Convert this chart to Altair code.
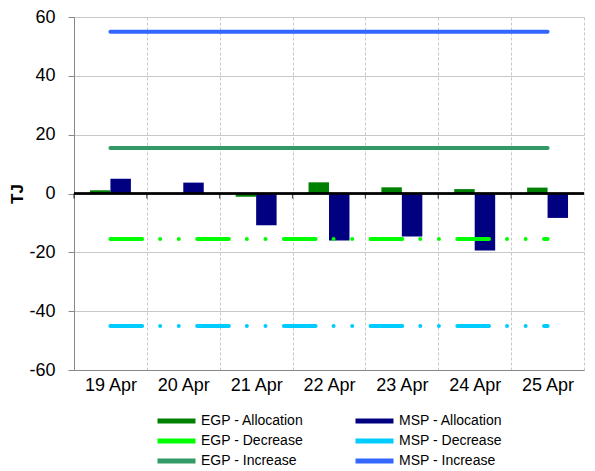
import altair as alt
import pandas as pd

dates = ["19 Apr", "20 Apr", "21 Apr", "22 Apr", "23 Apr", "24 Apr", "25 Apr"]
egp_allocation = [1.1, 0.0, -1.1, 3.8, 2.1, 1.5, 2.0]
msp_allocation = [5.0, 3.7, -10.8, -16.0, -14.6, -19.4, -8.3]
egp_decrease = [-15.5, -15.5, -15.5, -15.5, -15.5, -15.5, -15.5]
msp_decrease = [-45, -45, -45, -45, -45, -45, -45]
egp_increase = [15.5, 15.5, 15.5, 15.5, 15.5, 15.5, 15.5]
msp_increase = [55, 55, 55, 55, 55, 55, 55]
# legend is filled column by column: left column EGP, right column MSP
series = ["EGP - Allocation", "EGP - Decrease", "EGP - Increase",
          "MSP - Allocation", "MSP - Decrease", "MSP - Increase"]
colors = ["#008000", "#00FF00", "#339966", "#000080", "#00CCFF", "#3366FF"]
y_ticks = [-60, -40, -20, 0, 20, 40, 60]
zero_line = [0]

FONT = "Liberation Sans"

def long(values, name, group):
    return pd.DataFrame({"date": dates, "value": values, "series": name, "group": group})

bar_df = pd.concat([long(egp_allocation, "EGP - Allocation", "EGP"),
                    long(msp_allocation, "MSP - Allocation", "MSP")])
dec_df = pd.concat([long(egp_decrease, "EGP - Decrease", "EGP"),
                    long(msp_decrease, "MSP - Decrease", "MSP")])
inc_df = pd.concat([long(egp_increase, "EGP - Increase", "EGP"),
                    long(msp_increase, "MSP - Increase", "MSP")])
tick_df = pd.DataFrame({"date": dates, "value": zero_line * len(dates)})

color_scale = alt.Scale(domain=series, range=colors)
legend = alt.Legend(
    title=None, orient="none", legendX=81, legendY=394, columns=2,
    symbolType="stroke", symbolSize=1444, symbolStrokeWidth=5, clipHeight=20,
    rowPadding=0, columnPadding=49, labelOffset=3, padding=0,
    labelFont=FONT, labelFontSize=14, labelColor="black", symbolOpacity=1,
)
color = alt.Color("series:N", scale=color_scale, legend=legend)

x_scale = alt.Scale(domain=dates, paddingInner=0, paddingOuter=0)
x_axis = alt.Axis(
    orient="bottom", labelFont=FONT, labelFontSize=18, labelColor="black", labelAngle=0,
    labelPadding=6, ticks=False, domainColor="#888888", grid=True, gridDash=[3, 2],
    gridColor="#c8c8c8", tickBand="extent")
x_main = alt.X("date:N", sort=dates, scale=x_scale, title=None, axis=x_axis)
y = alt.Y("value:Q", scale=alt.Scale(domain=[-60, 60], nice=False), axis=alt.Axis(
    values=y_ticks, labelExpr="'' + datum.value", title="TJ", titleFont=FONT,
    titleFontSize=17, titleFontWeight="bold", titleColor="black", titlePadding=2,
    labelFont=FONT, labelFontSize=18, labelColor="black", labelPadding=13, tickSize=6,
    tickColor="#888888", domainColor="#888888", gridColor="#c8c8c8"))

bars = alt.Chart(bar_df).mark_bar().encode(
    x=x_main, y=y, color=color,
    xOffset=alt.XOffset("group:N", scale=alt.Scale(domain=["EGP", "MSP"], paddingInner=0, paddingOuter=0.78)),
)
zero = alt.Chart(tick_df).mark_rule(color="black", strokeWidth=1.3).encode(
    y=alt.Y("value:Q"))
zero_ticks = alt.Chart(tick_df).mark_tick(
    color="black", size=5, thickness=1.3, yOffset=2.5, orient="vertical"
).encode(x=alt.X("date:N", sort=dates, scale=x_scale, title=None, axis=x_axis, bandPosition=0),
         y="value:Q")
dec = alt.Chart(dec_df).mark_line(
    strokeWidth=4, strokeCap="round", strokeDash=[31.7, 18, 0.01, 18.6, 0.01, 18.4]
).encode(x=x_main, y="value:Q", color=color, detail="group:N")
inc = alt.Chart(inc_df).mark_line(strokeWidth=4, strokeCap="round").encode(
    x=x_main, y="value:Q", color=color, detail="group:N")

chart = alt.layer(bars, zero, zero_ticks, dec, inc).properties(
    width=510, height=353, padding=0,
).configure_view(stroke=None)

chart.save("out.html", embed_options={"renderer": "svg", "actions": False})
